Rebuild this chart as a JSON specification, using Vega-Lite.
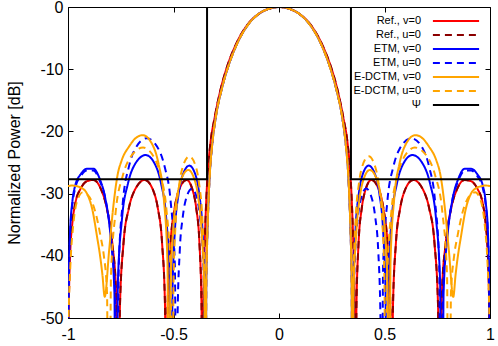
{
"$schema": "https://vega.github.io/schema/vega-lite/v6.json",
"width": 422, "height": 311,
"autosize": {"type": "none"},
"padding": {"left": 68, "top": 7, "right": 8, "bottom": 28},
"config": {
  "font": "Liberation Sans",
  "view": {"stroke": "black", "strokeWidth": 1},
  "axis": {"grid": false, "domain": false, "tickColor": "black", "tickWidth": 1, "labelColor": "black", "labelFontSize": 16, "labelFont": "Liberation Sans", "labelFlush": false, "labelOverlap": false, "titleFont": "Liberation Sans", "titleFontSize": 16, "titleFontWeight": "normal", "titleColor": "black"},
  "legend": {"symbolType": "M-3.85,0H3.85", "symbolSize": 144, "symbolStrokeWidth": 2, "labelAlign": "right", "labelOffset": -42, "labelFontSize": 11, "labelFont": "Liberation Sans", "labelColor": "black", "rowPadding": 2, "padding": 0}
},
"layer": [
{
"data": {"values": [
{"s":"Ref., v=0","x":0,"y":0},
{"s":"Ref., v=0","x":0.05,"y":-0.3},{"s":"Ref., v=0","x":0.1,"y":-1.2},{"s":"Ref., v=0","x":0.153,"y":-3},{"s":"Ref., v=0","x":0.204,"y":-6},{"s":"Ref., v=0","x":0.245,"y":-9.5},{"s":"Ref., v=0","x":0.275,"y":-13},{"s":"Ref., v=0","x":0.305,"y":-17.8},{"s":"Ref., v=0","x":0.325,"y":-21.9},{"s":"Ref., v=0","x":0.339,"y":-27.3},{"s":"Ref., v=0","x":0.346,"y":-32.1},{"s":"Ref., v=0","x":0.353,"y":-39.1},{"s":"Ref., v=0","x":0.357,"y":-45},{"s":"Ref., v=0","x":0.362,"y":-100},{"s":"Ref., v=0","x":0.367,"y":-48.3},{"s":"Ref., v=0","x":0.377,"y":-38},{"s":"Ref., v=0","x":0.392,"y":-32.4},{"s":"Ref., v=0","x":0.408,"y":-29.6},{"s":"Ref., v=0","x":0.438,"y":-27.8},{"s":"Ref., v=0","x":0.476,"y":-29.6},{"s":"Ref., v=0","x":0.495,"y":-32.4},{"s":"Ref., v=0","x":0.514,"y":-38},{"s":"Ref., v=0","x":0.528,"y":-48.3},{"s":"Ref., v=0","x":0.534,"y":-100},{"s":"Ref., v=0","x":0.54,"y":-48.3},{"s":"Ref., v=0","x":0.554,"y":-38},{"s":"Ref., v=0","x":0.574,"y":-32.4},{"s":"Ref., v=0","x":0.595,"y":-29.6},{"s":"Ref., v=0","x":0.636,"y":-27.8},{"s":"Ref., v=0","x":0.686,"y":-29.6},{"s":"Ref., v=0","x":0.712,"y":-32.4},{"s":"Ref., v=0","x":0.737,"y":-38},{"s":"Ref., v=0","x":0.754,"y":-48.3},{"s":"Ref., v=0","x":0.762,"y":-100},{"s":"Ref., v=0","x":0.772,"y":-46},{"s":"Ref., v=0","x":0.79,"y":-38},{"s":"Ref., v=0","x":0.815,"y":-32.5},{"s":"Ref., v=0","x":0.845,"y":-29.2},{"s":"Ref., v=0","x":0.88,"y":-27.8},{"s":"Ref., v=0","x":0.91,"y":-28},{"s":"Ref., v=0","x":0.94,"y":-29.2},{"s":"Ref., v=0","x":0.965,"y":-31.5},{"s":"Ref., v=0","x":0.98,"y":-35},{"s":"Ref., v=0","x":0.99,"y":-40},{"s":"Ref., v=0","x":0.996,"y":-48},{"s":"Ref., v=0","x":1,"y":-100},
{"s":"Ref., v=0","x":-0.05,"y":-0.3},{"s":"Ref., v=0","x":-0.1,"y":-1.2},{"s":"Ref., v=0","x":-0.153,"y":-3},{"s":"Ref., v=0","x":-0.204,"y":-6},{"s":"Ref., v=0","x":-0.245,"y":-9.5},{"s":"Ref., v=0","x":-0.275,"y":-13},{"s":"Ref., v=0","x":-0.305,"y":-17.8},{"s":"Ref., v=0","x":-0.325,"y":-21.9},{"s":"Ref., v=0","x":-0.339,"y":-27.3},{"s":"Ref., v=0","x":-0.346,"y":-32.1},{"s":"Ref., v=0","x":-0.353,"y":-39.1},{"s":"Ref., v=0","x":-0.357,"y":-45},{"s":"Ref., v=0","x":-0.362,"y":-100},{"s":"Ref., v=0","x":-0.367,"y":-48.3},{"s":"Ref., v=0","x":-0.377,"y":-38},{"s":"Ref., v=0","x":-0.392,"y":-32.4},{"s":"Ref., v=0","x":-0.408,"y":-29.6},{"s":"Ref., v=0","x":-0.438,"y":-27.8},{"s":"Ref., v=0","x":-0.476,"y":-29.6},{"s":"Ref., v=0","x":-0.495,"y":-32.4},{"s":"Ref., v=0","x":-0.514,"y":-38},{"s":"Ref., v=0","x":-0.528,"y":-48.3},{"s":"Ref., v=0","x":-0.534,"y":-100},{"s":"Ref., v=0","x":-0.54,"y":-48.3},{"s":"Ref., v=0","x":-0.554,"y":-38},{"s":"Ref., v=0","x":-0.574,"y":-32.4},{"s":"Ref., v=0","x":-0.595,"y":-29.6},{"s":"Ref., v=0","x":-0.636,"y":-27.8},{"s":"Ref., v=0","x":-0.686,"y":-29.6},{"s":"Ref., v=0","x":-0.712,"y":-32.4},{"s":"Ref., v=0","x":-0.737,"y":-38},{"s":"Ref., v=0","x":-0.754,"y":-48.3},{"s":"Ref., v=0","x":-0.762,"y":-100},{"s":"Ref., v=0","x":-0.772,"y":-46},{"s":"Ref., v=0","x":-0.79,"y":-38},{"s":"Ref., v=0","x":-0.815,"y":-32.5},{"s":"Ref., v=0","x":-0.845,"y":-29.2},{"s":"Ref., v=0","x":-0.88,"y":-27.8},{"s":"Ref., v=0","x":-0.91,"y":-28},{"s":"Ref., v=0","x":-0.94,"y":-29.2},{"s":"Ref., v=0","x":-0.965,"y":-31.5},{"s":"Ref., v=0","x":-0.98,"y":-35},{"s":"Ref., v=0","x":-0.99,"y":-40},{"s":"Ref., v=0","x":-0.996,"y":-48},{"s":"Ref., v=0","x":-1,"y":-100},

{"s":"Ref., u=0","x":0,"y":0},
{"s":"Ref., u=0","x":0.05,"y":-0.3},{"s":"Ref., u=0","x":0.1,"y":-1.2},{"s":"Ref., u=0","x":0.153,"y":-3},{"s":"Ref., u=0","x":0.204,"y":-6},{"s":"Ref., u=0","x":0.245,"y":-9.5},{"s":"Ref., u=0","x":0.275,"y":-13},{"s":"Ref., u=0","x":0.305,"y":-17.8},{"s":"Ref., u=0","x":0.325,"y":-21.9},{"s":"Ref., u=0","x":0.339,"y":-27.3},{"s":"Ref., u=0","x":0.346,"y":-32.1},{"s":"Ref., u=0","x":0.353,"y":-39.1},{"s":"Ref., u=0","x":0.357,"y":-45},{"s":"Ref., u=0","x":0.362,"y":-100},{"s":"Ref., u=0","x":0.367,"y":-48.3},{"s":"Ref., u=0","x":0.377,"y":-38},{"s":"Ref., u=0","x":0.392,"y":-32.4},{"s":"Ref., u=0","x":0.408,"y":-29.6},{"s":"Ref., u=0","x":0.438,"y":-27.8},{"s":"Ref., u=0","x":0.476,"y":-29.6},{"s":"Ref., u=0","x":0.495,"y":-32.4},{"s":"Ref., u=0","x":0.514,"y":-38},{"s":"Ref., u=0","x":0.528,"y":-48.3},{"s":"Ref., u=0","x":0.534,"y":-100},{"s":"Ref., u=0","x":0.54,"y":-48.3},{"s":"Ref., u=0","x":0.554,"y":-38},{"s":"Ref., u=0","x":0.574,"y":-32.4},{"s":"Ref., u=0","x":0.595,"y":-29.6},{"s":"Ref., u=0","x":0.636,"y":-27.8},{"s":"Ref., u=0","x":0.686,"y":-29.6},{"s":"Ref., u=0","x":0.712,"y":-32.4},{"s":"Ref., u=0","x":0.737,"y":-38},{"s":"Ref., u=0","x":0.754,"y":-48.3},{"s":"Ref., u=0","x":0.762,"y":-100},{"s":"Ref., u=0","x":0.772,"y":-46},{"s":"Ref., u=0","x":0.79,"y":-38},{"s":"Ref., u=0","x":0.815,"y":-32.5},{"s":"Ref., u=0","x":0.845,"y":-29.2},{"s":"Ref., u=0","x":0.88,"y":-27.8},{"s":"Ref., u=0","x":0.91,"y":-28},{"s":"Ref., u=0","x":0.94,"y":-29.2},{"s":"Ref., u=0","x":0.965,"y":-31.5},{"s":"Ref., u=0","x":0.98,"y":-35},{"s":"Ref., u=0","x":0.99,"y":-40},{"s":"Ref., u=0","x":0.996,"y":-48},{"s":"Ref., u=0","x":1,"y":-100},
{"s":"Ref., u=0","x":-0.05,"y":-0.3},{"s":"Ref., u=0","x":-0.1,"y":-1.2},{"s":"Ref., u=0","x":-0.153,"y":-3},{"s":"Ref., u=0","x":-0.204,"y":-6},{"s":"Ref., u=0","x":-0.245,"y":-9.5},{"s":"Ref., u=0","x":-0.275,"y":-13},{"s":"Ref., u=0","x":-0.305,"y":-17.8},{"s":"Ref., u=0","x":-0.325,"y":-21.9},{"s":"Ref., u=0","x":-0.339,"y":-27.3},{"s":"Ref., u=0","x":-0.346,"y":-32.1},{"s":"Ref., u=0","x":-0.353,"y":-39.1},{"s":"Ref., u=0","x":-0.357,"y":-45},{"s":"Ref., u=0","x":-0.362,"y":-100},{"s":"Ref., u=0","x":-0.367,"y":-48.3},{"s":"Ref., u=0","x":-0.377,"y":-38},{"s":"Ref., u=0","x":-0.392,"y":-32.4},{"s":"Ref., u=0","x":-0.408,"y":-29.6},{"s":"Ref., u=0","x":-0.438,"y":-27.8},{"s":"Ref., u=0","x":-0.476,"y":-29.6},{"s":"Ref., u=0","x":-0.495,"y":-32.4},{"s":"Ref., u=0","x":-0.514,"y":-38},{"s":"Ref., u=0","x":-0.528,"y":-48.3},{"s":"Ref., u=0","x":-0.534,"y":-100},{"s":"Ref., u=0","x":-0.54,"y":-48.3},{"s":"Ref., u=0","x":-0.554,"y":-38},{"s":"Ref., u=0","x":-0.574,"y":-32.4},{"s":"Ref., u=0","x":-0.595,"y":-29.6},{"s":"Ref., u=0","x":-0.636,"y":-27.8},{"s":"Ref., u=0","x":-0.686,"y":-29.6},{"s":"Ref., u=0","x":-0.712,"y":-32.4},{"s":"Ref., u=0","x":-0.737,"y":-38},{"s":"Ref., u=0","x":-0.754,"y":-48.3},{"s":"Ref., u=0","x":-0.762,"y":-100},{"s":"Ref., u=0","x":-0.772,"y":-46},{"s":"Ref., u=0","x":-0.79,"y":-38},{"s":"Ref., u=0","x":-0.815,"y":-32.5},{"s":"Ref., u=0","x":-0.845,"y":-29.2},{"s":"Ref., u=0","x":-0.88,"y":-27.8},{"s":"Ref., u=0","x":-0.91,"y":-28},{"s":"Ref., u=0","x":-0.94,"y":-29.2},{"s":"Ref., u=0","x":-0.965,"y":-31.5},{"s":"Ref., u=0","x":-0.98,"y":-35},{"s":"Ref., u=0","x":-0.99,"y":-40},{"s":"Ref., u=0","x":-0.996,"y":-48},{"s":"Ref., u=0","x":-1,"y":-100},

{"s":"ETM, v=0","x":0,"y":0},
{"s":"ETM, v=0","x":0.05,"y":-0.3},{"s":"ETM, v=0","x":0.1,"y":-1.2},{"s":"ETM, v=0","x":0.15,"y":-3},{"s":"ETM, v=0","x":0.2,"y":-6},{"s":"ETM, v=0","x":0.24,"y":-9.5},{"s":"ETM, v=0","x":0.27,"y":-13},{"s":"ETM, v=0","x":0.3,"y":-17.8},{"s":"ETM, v=0","x":0.316,"y":-21.9},{"s":"ETM, v=0","x":0.3288,"y":-27.3},{"s":"ETM, v=0","x":0.3352,"y":-32.1},{"s":"ETM, v=0","x":0.3416,"y":-39.1},{"s":"ETM, v=0","x":0.3448,"y":-45},{"s":"ETM, v=0","x":0.348,"y":-100},{"s":"ETM, v=0","x":0.3525,"y":-46},{"s":"ETM, v=0","x":0.363,"y":-35.7},{"s":"ETM, v=0","x":0.378,"y":-30.1},{"s":"ETM, v=0","x":0.393,"y":-27.3},{"s":"ETM, v=0","x":0.425,"y":-25.5},{"s":"ETM, v=0","x":0.459,"y":-27.3},{"s":"ETM, v=0","x":0.476,"y":-30.1},{"s":"ETM, v=0","x":0.493,"y":-35.7},{"s":"ETM, v=0","x":0.505,"y":-46},{"s":"ETM, v=0","x":0.51,"y":-100},{"s":"ETM, v=0","x":0.5173,"y":-44.3},{"s":"ETM, v=0","x":0.5344,"y":-34},{"s":"ETM, v=0","x":0.5588,"y":-28.4},{"s":"ETM, v=0","x":0.5832,"y":-25.6},{"s":"ETM, v=0","x":0.632,"y":-23.8},{"s":"ETM, v=0","x":0.688,"y":-25.6},{"s":"ETM, v=0","x":0.716,"y":-28.4},{"s":"ETM, v=0","x":0.744,"y":-34},{"s":"ETM, v=0","x":0.7636,"y":-44.3},{"s":"ETM, v=0","x":0.772,"y":-100},{"s":"ETM, v=0","x":0.78,"y":-46},{"s":"ETM, v=0","x":0.798,"y":-37},{"s":"ETM, v=0","x":0.822,"y":-31},{"s":"ETM, v=0","x":0.85,"y":-27.6},{"s":"ETM, v=0","x":0.88,"y":-26},{"s":"ETM, v=0","x":0.91,"y":-26},{"s":"ETM, v=0","x":0.94,"y":-26.9},{"s":"ETM, v=0","x":0.965,"y":-28.6},{"s":"ETM, v=0","x":0.98,"y":-31.5},{"s":"ETM, v=0","x":0.99,"y":-36},{"s":"ETM, v=0","x":0.997,"y":-48},{"s":"ETM, v=0","x":1,"y":-100},
{"s":"ETM, v=0","x":-0.05,"y":-0.3},{"s":"ETM, v=0","x":-0.1,"y":-1.2},{"s":"ETM, v=0","x":-0.15,"y":-3},{"s":"ETM, v=0","x":-0.2,"y":-6},{"s":"ETM, v=0","x":-0.24,"y":-9.5},{"s":"ETM, v=0","x":-0.27,"y":-13},{"s":"ETM, v=0","x":-0.3,"y":-17.8},{"s":"ETM, v=0","x":-0.316,"y":-21.9},{"s":"ETM, v=0","x":-0.3288,"y":-27.3},{"s":"ETM, v=0","x":-0.3352,"y":-32.1},{"s":"ETM, v=0","x":-0.3416,"y":-39.1},{"s":"ETM, v=0","x":-0.3448,"y":-45},{"s":"ETM, v=0","x":-0.348,"y":-100},{"s":"ETM, v=0","x":-0.3525,"y":-46},{"s":"ETM, v=0","x":-0.363,"y":-35.7},{"s":"ETM, v=0","x":-0.378,"y":-30.1},{"s":"ETM, v=0","x":-0.393,"y":-27.3},{"s":"ETM, v=0","x":-0.425,"y":-25.5},{"s":"ETM, v=0","x":-0.459,"y":-27.3},{"s":"ETM, v=0","x":-0.476,"y":-30.1},{"s":"ETM, v=0","x":-0.493,"y":-35.7},{"s":"ETM, v=0","x":-0.505,"y":-46},{"s":"ETM, v=0","x":-0.51,"y":-100},{"s":"ETM, v=0","x":-0.5173,"y":-44.3},{"s":"ETM, v=0","x":-0.5344,"y":-34},{"s":"ETM, v=0","x":-0.5588,"y":-28.4},{"s":"ETM, v=0","x":-0.5832,"y":-25.6},{"s":"ETM, v=0","x":-0.632,"y":-23.8},{"s":"ETM, v=0","x":-0.688,"y":-25.6},{"s":"ETM, v=0","x":-0.716,"y":-28.4},{"s":"ETM, v=0","x":-0.744,"y":-34},{"s":"ETM, v=0","x":-0.7636,"y":-44.3},{"s":"ETM, v=0","x":-0.772,"y":-100},{"s":"ETM, v=0","x":-0.78,"y":-46},{"s":"ETM, v=0","x":-0.798,"y":-37},{"s":"ETM, v=0","x":-0.822,"y":-31},{"s":"ETM, v=0","x":-0.85,"y":-27.6},{"s":"ETM, v=0","x":-0.88,"y":-26},{"s":"ETM, v=0","x":-0.91,"y":-26},{"s":"ETM, v=0","x":-0.94,"y":-26.9},{"s":"ETM, v=0","x":-0.965,"y":-28.6},{"s":"ETM, v=0","x":-0.98,"y":-31.5},{"s":"ETM, v=0","x":-0.99,"y":-36},{"s":"ETM, v=0","x":-0.997,"y":-48},{"s":"ETM, v=0","x":-1,"y":-100},

{"s":"ETM, u=0","x":0,"y":0},
{"s":"ETM, u=0","x":0.05,"y":-0.3},{"s":"ETM, u=0","x":0.1,"y":-1.2},{"s":"ETM, u=0","x":0.15,"y":-3},{"s":"ETM, u=0","x":0.2,"y":-6},{"s":"ETM, u=0","x":0.24,"y":-9.5},{"s":"ETM, u=0","x":0.27,"y":-13},{"s":"ETM, u=0","x":0.3,"y":-17.8},{"s":"ETM, u=0","x":0.316,"y":-21.9},{"s":"ETM, u=0","x":0.3288,"y":-27.3},{"s":"ETM, u=0","x":0.3352,"y":-32.1},{"s":"ETM, u=0","x":0.3416,"y":-39.1},{"s":"ETM, u=0","x":0.3448,"y":-45},{"s":"ETM, u=0","x":0.348,"y":-100},{"s":"ETM, u=0","x":0.3519,"y":-49.7},{"s":"ETM, u=0","x":0.361,"y":-39.4},{"s":"ETM, u=0","x":0.374,"y":-33.8},{"s":"ETM, u=0","x":0.387,"y":-31},{"s":"ETM, u=0","x":0.413,"y":-29.2},{"s":"ETM, u=0","x":0.4418,"y":-31},{"s":"ETM, u=0","x":0.4562,"y":-33.8},{"s":"ETM, u=0","x":0.4706,"y":-39.4},{"s":"ETM, u=0","x":0.4807,"y":-49.7},{"s":"ETM, u=0","x":0.485,"y":-100},{"s":"ETM, u=0","x":0.4935,"y":-41.6},{"s":"ETM, u=0","x":0.5134,"y":-31.3},{"s":"ETM, u=0","x":0.5418,"y":-25.7},{"s":"ETM, u=0","x":0.5702,"y":-22.9},{"s":"ETM, u=0","x":0.627,"y":-21.1},{"s":"ETM, u=0","x":0.6834,"y":-22.9},{"s":"ETM, u=0","x":0.7116,"y":-25.7},{"s":"ETM, u=0","x":0.7398,"y":-31.3},{"s":"ETM, u=0","x":0.7595,"y":-41.6},{"s":"ETM, u=0","x":0.768,"y":-100},{"s":"ETM, u=0","x":0.777,"y":-46},{"s":"ETM, u=0","x":0.795,"y":-37.5},{"s":"ETM, u=0","x":0.82,"y":-31.3},{"s":"ETM, u=0","x":0.85,"y":-27.9},{"s":"ETM, u=0","x":0.88,"y":-26.3},{"s":"ETM, u=0","x":0.91,"y":-26.3},{"s":"ETM, u=0","x":0.94,"y":-27.2},{"s":"ETM, u=0","x":0.965,"y":-29},{"s":"ETM, u=0","x":0.98,"y":-32},{"s":"ETM, u=0","x":0.99,"y":-36.5},{"s":"ETM, u=0","x":0.997,"y":-48},{"s":"ETM, u=0","x":1,"y":-100},
{"s":"ETM, u=0","x":-0.05,"y":-0.3},{"s":"ETM, u=0","x":-0.1,"y":-1.2},{"s":"ETM, u=0","x":-0.15,"y":-3},{"s":"ETM, u=0","x":-0.2,"y":-6},{"s":"ETM, u=0","x":-0.24,"y":-9.5},{"s":"ETM, u=0","x":-0.27,"y":-13},{"s":"ETM, u=0","x":-0.3,"y":-17.8},{"s":"ETM, u=0","x":-0.316,"y":-21.9},{"s":"ETM, u=0","x":-0.3288,"y":-27.3},{"s":"ETM, u=0","x":-0.3352,"y":-32.1},{"s":"ETM, u=0","x":-0.3416,"y":-39.1},{"s":"ETM, u=0","x":-0.3448,"y":-45},{"s":"ETM, u=0","x":-0.348,"y":-100},{"s":"ETM, u=0","x":-0.3519,"y":-49.7},{"s":"ETM, u=0","x":-0.361,"y":-39.4},{"s":"ETM, u=0","x":-0.374,"y":-33.8},{"s":"ETM, u=0","x":-0.387,"y":-31},{"s":"ETM, u=0","x":-0.413,"y":-29.2},{"s":"ETM, u=0","x":-0.4418,"y":-31},{"s":"ETM, u=0","x":-0.4562,"y":-33.8},{"s":"ETM, u=0","x":-0.4706,"y":-39.4},{"s":"ETM, u=0","x":-0.4807,"y":-49.7},{"s":"ETM, u=0","x":-0.485,"y":-100},{"s":"ETM, u=0","x":-0.4935,"y":-41.6},{"s":"ETM, u=0","x":-0.5134,"y":-31.3},{"s":"ETM, u=0","x":-0.5418,"y":-25.7},{"s":"ETM, u=0","x":-0.5702,"y":-22.9},{"s":"ETM, u=0","x":-0.627,"y":-21.1},{"s":"ETM, u=0","x":-0.6834,"y":-22.9},{"s":"ETM, u=0","x":-0.7116,"y":-25.7},{"s":"ETM, u=0","x":-0.7398,"y":-31.3},{"s":"ETM, u=0","x":-0.7595,"y":-41.6},{"s":"ETM, u=0","x":-0.768,"y":-100},{"s":"ETM, u=0","x":-0.777,"y":-46},{"s":"ETM, u=0","x":-0.795,"y":-37.5},{"s":"ETM, u=0","x":-0.82,"y":-31.3},{"s":"ETM, u=0","x":-0.85,"y":-27.9},{"s":"ETM, u=0","x":-0.88,"y":-26.3},{"s":"ETM, u=0","x":-0.91,"y":-26.3},{"s":"ETM, u=0","x":-0.94,"y":-27.2},{"s":"ETM, u=0","x":-0.965,"y":-29},{"s":"ETM, u=0","x":-0.98,"y":-32},{"s":"ETM, u=0","x":-0.99,"y":-36.5},{"s":"ETM, u=0","x":-0.997,"y":-48},{"s":"ETM, u=0","x":-1,"y":-100},

{"s":"E-DCTM, v=0","x":0,"y":0},
{"s":"E-DCTM, v=0","x":0.05,"y":-0.3},{"s":"E-DCTM, v=0","x":0.1,"y":-1.2},{"s":"E-DCTM, v=0","x":0.15,"y":-3},{"s":"E-DCTM, v=0","x":0.2,"y":-6},{"s":"E-DCTM, v=0","x":0.24,"y":-9.5},{"s":"E-DCTM, v=0","x":0.27,"y":-13},{"s":"E-DCTM, v=0","x":0.3,"y":-17.8},{"s":"E-DCTM, v=0","x":0.316,"y":-21.9},{"s":"E-DCTM, v=0","x":0.3288,"y":-27.3},{"s":"E-DCTM, v=0","x":0.3352,"y":-32.1},{"s":"E-DCTM, v=0","x":0.3416,"y":-39.1},{"s":"E-DCTM, v=0","x":0.3448,"y":-45},{"s":"E-DCTM, v=0","x":0.348,"y":-100},{"s":"E-DCTM, v=0","x":0.3528,"y":-46.7},{"s":"E-DCTM, v=0","x":0.366,"y":-36.4},{"s":"E-DCTM, v=0","x":0.382,"y":-30.8},{"s":"E-DCTM, v=0","x":0.398,"y":-28},{"s":"E-DCTM, v=0","x":0.43,"y":-26.2},{"s":"E-DCTM, v=0","x":0.4664,"y":-28},{"s":"E-DCTM, v=0","x":0.4846,"y":-30.8},{"s":"E-DCTM, v=0","x":0.5028,"y":-36.4},{"s":"E-DCTM, v=0","x":0.5155,"y":-46.7},{"s":"E-DCTM, v=0","x":0.521,"y":-100},{"s":"E-DCTM, v=0","x":0.5285,"y":-41.1},{"s":"E-DCTM, v=0","x":0.546,"y":-30.8},{"s":"E-DCTM, v=0","x":0.571,"y":-25.2},{"s":"E-DCTM, v=0","x":0.596,"y":-22.4},{"s":"E-DCTM, v=0","x":0.646,"y":-20.6},{"s":"E-DCTM, v=0","x":0.68,"y":-21.1},{"s":"E-DCTM, v=0","x":0.71,"y":-22.4},{"s":"E-DCTM, v=0","x":0.745,"y":-24.6},{"s":"E-DCTM, v=0","x":0.765,"y":-27},{"s":"E-DCTM, v=0","x":0.785,"y":-32},{"s":"E-DCTM, v=0","x":0.805,"y":-39.1},{"s":"E-DCTM, v=0","x":0.826,"y":-46.6},{"s":"E-DCTM, v=0","x":0.837,"y":-43},{"s":"E-DCTM, v=0","x":0.848,"y":-40},{"s":"E-DCTM, v=0","x":0.862,"y":-37},{"s":"E-DCTM, v=0","x":0.885,"y":-32.5},{"s":"E-DCTM, v=0","x":0.91,"y":-30},{"s":"E-DCTM, v=0","x":0.935,"y":-29.1},{"s":"E-DCTM, v=0","x":0.96,"y":-28.8},{"s":"E-DCTM, v=0","x":0.98,"y":-28.7},{"s":"E-DCTM, v=0","x":1,"y":-28.8},
{"s":"E-DCTM, v=0","x":-0.05,"y":-0.3},{"s":"E-DCTM, v=0","x":-0.1,"y":-1.2},{"s":"E-DCTM, v=0","x":-0.15,"y":-3},{"s":"E-DCTM, v=0","x":-0.2,"y":-6},{"s":"E-DCTM, v=0","x":-0.24,"y":-9.5},{"s":"E-DCTM, v=0","x":-0.27,"y":-13},{"s":"E-DCTM, v=0","x":-0.3,"y":-17.8},{"s":"E-DCTM, v=0","x":-0.316,"y":-21.9},{"s":"E-DCTM, v=0","x":-0.3288,"y":-27.3},{"s":"E-DCTM, v=0","x":-0.3352,"y":-32.1},{"s":"E-DCTM, v=0","x":-0.3416,"y":-39.1},{"s":"E-DCTM, v=0","x":-0.3448,"y":-45},{"s":"E-DCTM, v=0","x":-0.348,"y":-100},{"s":"E-DCTM, v=0","x":-0.3528,"y":-46.7},{"s":"E-DCTM, v=0","x":-0.366,"y":-36.4},{"s":"E-DCTM, v=0","x":-0.382,"y":-30.8},{"s":"E-DCTM, v=0","x":-0.398,"y":-28},{"s":"E-DCTM, v=0","x":-0.43,"y":-26.2},{"s":"E-DCTM, v=0","x":-0.4664,"y":-28},{"s":"E-DCTM, v=0","x":-0.4846,"y":-30.8},{"s":"E-DCTM, v=0","x":-0.5028,"y":-36.4},{"s":"E-DCTM, v=0","x":-0.5155,"y":-46.7},{"s":"E-DCTM, v=0","x":-0.521,"y":-100},{"s":"E-DCTM, v=0","x":-0.5285,"y":-41.1},{"s":"E-DCTM, v=0","x":-0.546,"y":-30.8},{"s":"E-DCTM, v=0","x":-0.571,"y":-25.2},{"s":"E-DCTM, v=0","x":-0.596,"y":-22.4},{"s":"E-DCTM, v=0","x":-0.646,"y":-20.6},{"s":"E-DCTM, v=0","x":-0.68,"y":-21.1},{"s":"E-DCTM, v=0","x":-0.71,"y":-22.4},{"s":"E-DCTM, v=0","x":-0.745,"y":-24.6},{"s":"E-DCTM, v=0","x":-0.765,"y":-27},{"s":"E-DCTM, v=0","x":-0.785,"y":-32},{"s":"E-DCTM, v=0","x":-0.805,"y":-39.1},{"s":"E-DCTM, v=0","x":-0.826,"y":-46.6},{"s":"E-DCTM, v=0","x":-0.837,"y":-43},{"s":"E-DCTM, v=0","x":-0.848,"y":-40},{"s":"E-DCTM, v=0","x":-0.862,"y":-37},{"s":"E-DCTM, v=0","x":-0.885,"y":-32.5},{"s":"E-DCTM, v=0","x":-0.91,"y":-30},{"s":"E-DCTM, v=0","x":-0.935,"y":-29.1},{"s":"E-DCTM, v=0","x":-0.96,"y":-28.8},{"s":"E-DCTM, v=0","x":-0.98,"y":-28.7},{"s":"E-DCTM, v=0","x":-1,"y":-28.8},

{"s":"E-DCTM, u=0","x":0,"y":0},
{"s":"E-DCTM, u=0","x":0.05,"y":-0.3},{"s":"E-DCTM, u=0","x":0.1,"y":-1.2},{"s":"E-DCTM, u=0","x":0.15,"y":-3},{"s":"E-DCTM, u=0","x":0.2,"y":-6},{"s":"E-DCTM, u=0","x":0.24,"y":-9.5},{"s":"E-DCTM, u=0","x":0.27,"y":-13},{"s":"E-DCTM, u=0","x":0.3,"y":-17.8},{"s":"E-DCTM, u=0","x":0.316,"y":-21.9},{"s":"E-DCTM, u=0","x":0.3288,"y":-27.3},{"s":"E-DCTM, u=0","x":0.3352,"y":-32.1},{"s":"E-DCTM, u=0","x":0.3416,"y":-39.1},{"s":"E-DCTM, u=0","x":0.3448,"y":-45},{"s":"E-DCTM, u=0","x":0.348,"y":-100},{"s":"E-DCTM, u=0","x":0.3525,"y":-44.5},{"s":"E-DCTM, u=0","x":0.363,"y":-34.2},{"s":"E-DCTM, u=0","x":0.378,"y":-28.6},{"s":"E-DCTM, u=0","x":0.393,"y":-25.8},{"s":"E-DCTM, u=0","x":0.425,"y":-24},{"s":"E-DCTM, u=0","x":0.457,"y":-25.8},{"s":"E-DCTM, u=0","x":0.473,"y":-28.6},{"s":"E-DCTM, u=0","x":0.489,"y":-34.2},{"s":"E-DCTM, u=0","x":0.5002,"y":-44.5},{"s":"E-DCTM, u=0","x":0.505,"y":-100},{"s":"E-DCTM, u=0","x":0.5133,"y":-43.1},{"s":"E-DCTM, u=0","x":0.5328,"y":-32.8},{"s":"E-DCTM, u=0","x":0.5606,"y":-27.2},{"s":"E-DCTM, u=0","x":0.5884,"y":-24.4},{"s":"E-DCTM, u=0","x":0.644,"y":-22.6},{"s":"E-DCTM, u=0","x":0.7088,"y":-24.4},{"s":"E-DCTM, u=0","x":0.7412,"y":-27.2},{"s":"E-DCTM, u=0","x":0.7736,"y":-32.8},{"s":"E-DCTM, u=0","x":0.7963,"y":-43.1},{"s":"E-DCTM, u=0","x":0.806,"y":-100},{"s":"E-DCTM, u=0","x":0.815,"y":-46},{"s":"E-DCTM, u=0","x":0.83,"y":-40},{"s":"E-DCTM, u=0","x":0.845,"y":-37},{"s":"E-DCTM, u=0","x":0.87,"y":-33},{"s":"E-DCTM, u=0","x":0.9,"y":-30.5},{"s":"E-DCTM, u=0","x":0.93,"y":-29.8},{"s":"E-DCTM, u=0","x":0.955,"y":-31},{"s":"E-DCTM, u=0","x":0.975,"y":-35},{"s":"E-DCTM, u=0","x":0.988,"y":-41},{"s":"E-DCTM, u=0","x":0.997,"y":-50},{"s":"E-DCTM, u=0","x":1,"y":-100},
{"s":"E-DCTM, u=0","x":-0.05,"y":-0.3},{"s":"E-DCTM, u=0","x":-0.1,"y":-1.2},{"s":"E-DCTM, u=0","x":-0.15,"y":-3},{"s":"E-DCTM, u=0","x":-0.2,"y":-6},{"s":"E-DCTM, u=0","x":-0.24,"y":-9.5},{"s":"E-DCTM, u=0","x":-0.27,"y":-13},{"s":"E-DCTM, u=0","x":-0.3,"y":-17.8},{"s":"E-DCTM, u=0","x":-0.316,"y":-21.9},{"s":"E-DCTM, u=0","x":-0.3288,"y":-27.3},{"s":"E-DCTM, u=0","x":-0.3352,"y":-32.1},{"s":"E-DCTM, u=0","x":-0.3416,"y":-39.1},{"s":"E-DCTM, u=0","x":-0.3448,"y":-45},{"s":"E-DCTM, u=0","x":-0.348,"y":-100},{"s":"E-DCTM, u=0","x":-0.3525,"y":-44.5},{"s":"E-DCTM, u=0","x":-0.363,"y":-34.2},{"s":"E-DCTM, u=0","x":-0.378,"y":-28.6},{"s":"E-DCTM, u=0","x":-0.393,"y":-25.8},{"s":"E-DCTM, u=0","x":-0.425,"y":-24},{"s":"E-DCTM, u=0","x":-0.457,"y":-25.8},{"s":"E-DCTM, u=0","x":-0.473,"y":-28.6},{"s":"E-DCTM, u=0","x":-0.489,"y":-34.2},{"s":"E-DCTM, u=0","x":-0.5002,"y":-44.5},{"s":"E-DCTM, u=0","x":-0.505,"y":-100},{"s":"E-DCTM, u=0","x":-0.5133,"y":-43.1},{"s":"E-DCTM, u=0","x":-0.5328,"y":-32.8},{"s":"E-DCTM, u=0","x":-0.5606,"y":-27.2},{"s":"E-DCTM, u=0","x":-0.5884,"y":-24.4},{"s":"E-DCTM, u=0","x":-0.644,"y":-22.6},{"s":"E-DCTM, u=0","x":-0.7088,"y":-24.4},{"s":"E-DCTM, u=0","x":-0.7412,"y":-27.2},{"s":"E-DCTM, u=0","x":-0.7736,"y":-32.8},{"s":"E-DCTM, u=0","x":-0.7963,"y":-43.1},{"s":"E-DCTM, u=0","x":-0.806,"y":-100},{"s":"E-DCTM, u=0","x":-0.815,"y":-46},{"s":"E-DCTM, u=0","x":-0.83,"y":-40},{"s":"E-DCTM, u=0","x":-0.845,"y":-37},{"s":"E-DCTM, u=0","x":-0.87,"y":-33},{"s":"E-DCTM, u=0","x":-0.9,"y":-30.5},{"s":"E-DCTM, u=0","x":-0.93,"y":-29.8},{"s":"E-DCTM, u=0","x":-0.955,"y":-31},{"s":"E-DCTM, u=0","x":-0.975,"y":-35},{"s":"E-DCTM, u=0","x":-0.988,"y":-41},{"s":"E-DCTM, u=0","x":-0.997,"y":-50},{"s":"E-DCTM, u=0","x":-1,"y":-100}
]},
"mark": {"type": "line", "clip": true, "strokeWidth": 2, "interpolate": "monotone"},
"encoding": {
  "x": {"field": "x", "type": "quantitative", "scale": {"domain": [-1, 1], "nice": false},
        "axis": {"orient": "bottom", "values": [-1, -0.5, 0, 0.5, 1], "format": "~r", "title": null, "tickSize": -5, "labelPadding": 13, "labelExpr": "replace(datum.label, '\u2212', '-')"}},
  "y": {"field": "y", "type": "quantitative", "scale": {"domain": [-50, 0], "nice": false},
        "axis": {"orient": "left", "values": [0, -10, -20, -30, -40, -50], "format": "d", "title": "Normalized Power [dB]", "tickSize": -5, "labelPadding": 10, "titlePadding": 17, "labelExpr": "replace(datum.label, '\u2212', '-')"}},
  "color": {"field": "s", "type": "nominal",
    "scale": {"domain": ["Ref., v=0", "Ref., u=0", "ETM, v=0", "ETM, u=0", "E-DCTM, v=0", "E-DCTM, u=0", "Ψ"],
              "range": ["#ff0000", "#8b0000", "#0000ff", "#0000ff", "#ffa500", "#ffa500", "#000000"]},
    "legend": {"title": null, "orient": "none", "legendX": 381, "legendY": 7}},
  "strokeDash": {"field": "s", "type": "nominal",
    "scale": {"domain": ["Ref., v=0", "Ref., u=0", "ETM, v=0", "ETM, u=0", "E-DCTM, v=0", "E-DCTM, u=0", "Ψ"],
              "range": [[1, 0], [7, 5], [1, 0], [7, 5], [1, 0], [7, 5], [1, 0]]},
    "legend": {"title": null, "orient": "none", "legendX": 381, "legendY": 7}}
}
},
{
"data": {"values": [
{"s":"Ψ","x":-1,"y":-27.7},{"s":"Ψ","x":-0.341,"y":-27.7},{"s":"Ψ","x":-0.341,"y":0},{"s":"Ψ","x":0.341,"y":0},{"s":"Ψ","x":0.341,"y":-27.7},{"s":"Ψ","x":1,"y":-27.7}
]},
"mark": {"type": "line", "clip": true, "strokeWidth": 2},
"encoding": {
  "x": {"field": "x", "type": "quantitative", "axis": {"orient": "top", "values": [-1, -0.5, 0, 0.5, 1], "title": null, "labels": false, "tickSize": -5}},
  "y": {"field": "y", "type": "quantitative", "axis": {"orient": "right", "values": [0, -10, -20, -30, -40, -50], "title": null, "labels": false, "tickSize": -5}},
  "color": {"field": "s", "type": "nominal"},
  "strokeDash": {"field": "s", "type": "nominal"}
}
}
],
"resolve": {"axis": {"x": "independent", "y": "independent"}}
}
